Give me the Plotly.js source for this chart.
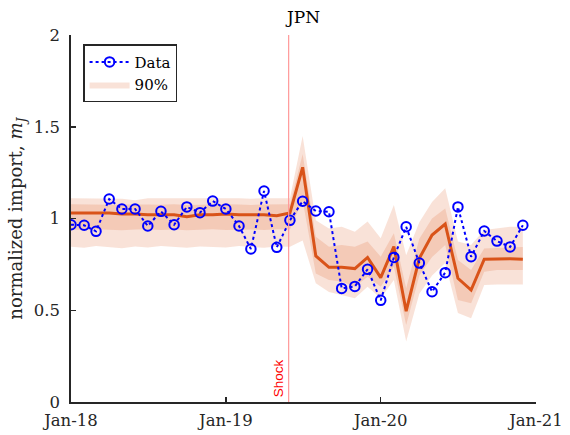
<!DOCTYPE html>
<html>
<head>
<meta charset="utf-8">
<script src="https://cdn.plot.ly/plotly-3.0.1.min.js"></script>
<style>html,body{margin:0;padding:0;background:#fff;}#chart{width:570px;height:435px;}</style>
</head>
<body>
<div id="chart"></div>
<script>
// Monthly dates Jan-2018 .. Dec-2020
const months = [
  '2018-01-01','2018-02-01','2018-03-01','2018-04-01','2018-05-01','2018-06-01',
  '2018-07-01','2018-08-01','2018-09-01','2018-10-01','2018-11-01','2018-12-01',
  '2019-01-01','2019-02-01','2019-03-01','2019-04-01','2019-05-01','2019-06-01',
  '2019-07-01','2019-08-01','2019-09-01','2019-10-01','2019-11-01','2019-12-01',
  '2020-01-01','2020-02-01','2020-03-01','2020-04-01','2020-05-01','2020-06-01',
  '2020-07-01','2020-08-01','2020-09-01','2020-10-01','2020-11-01','2020-12-01'
];
const dataValues = [
  0.966,0.963,0.930,1.106,1.052,1.052,0.959,1.039,0.966,1.063,1.032,1.095,
  1.052,0.959,0.834,1.150,0.843,0.990,1.094,1.041,1.037,0.619,0.630,0.723,
  0.554,0.788,0.955,0.757,0.601,0.705,1.063,0.792,0.932,0.877,0.845,0.963
];
const medianValues = [
  1.030,1.030,1.030,1.030,1.025,1.025,1.020,1.020,1.020,1.010,1.020,1.020,
  1.025,1.020,1.020,1.020,1.015,1.030,1.279,0.796,0.734,0.734,0.727,0.788,
  0.678,0.847,0.495,0.783,0.910,0.970,0.674,0.610,0.778,0.781,0.781,0.778
];
const outerUpper = [
  1.110,1.110,1.112,1.110,1.108,1.100,1.110,1.110,1.112,1.110,1.110,1.112,
  1.110,1.110,1.108,1.110,1.110,1.110,1.450,0.990,0.946,0.955,0.928,0.983,
  0.892,1.074,0.800,0.980,1.090,1.165,0.874,0.856,0.937,0.946,0.955,0.955
];
const innerUpper = [
  1.078,1.076,1.078,1.075,1.076,1.074,1.076,1.075,1.078,1.074,1.076,1.075,
  1.078,1.076,1.074,1.076,1.075,1.078,1.350,0.900,0.846,0.856,0.846,0.874,
  0.792,0.919,0.620,0.890,1.000,1.055,0.774,0.720,0.837,0.840,0.845,0.845
];
const innerLower = [
  0.940,0.938,0.942,0.940,0.936,0.940,0.942,0.938,0.940,0.936,0.940,0.942,
  0.938,0.940,0.940,0.938,0.942,0.940,1.100,0.700,0.665,0.656,0.628,0.683,
  0.628,0.737,0.420,0.690,0.790,0.855,0.556,0.538,0.710,0.720,0.720,0.720
];
const outerLower = [
  0.846,0.840,0.850,0.845,0.838,0.848,0.842,0.850,0.844,0.840,0.848,0.845,
  0.842,0.850,0.846,0.840,0.848,0.846,0.880,0.647,0.600,0.583,0.565,0.628,
  0.565,0.665,0.330,0.590,0.690,0.757,0.485,0.456,0.638,0.640,0.640,0.640
];
const shockDate = '2019-05-29';
const xTickVals = ['2018-01-01','2019-01-01','2020-01-01','2021-01-01'];
const xTickText = ['Jan-18','Jan-19','Jan-20','Jan-21'];
const yTickVals = [0,0.5,1,1.5,2];
const yTickText = ['0','0.5','1','1.5','2'];

const bandColor = 'rgba(217,83,25,0.17)';
const serif = 'DejaVu Serif, serif';
const axisColor = '#262626';

const traces = [
  {x: months, y: outerLower, type:'scatter', mode:'lines', line:{width:0, color:bandColor}, showlegend:false, hoverinfo:'skip'},
  {x: months, y: outerUpper, type:'scatter', mode:'lines', fill:'tonexty', fillcolor:bandColor, line:{width:0, color:bandColor}, name:'90%', legendrank:2},
  {x: months, y: innerLower, type:'scatter', mode:'lines', line:{width:0, color:bandColor}, showlegend:false, hoverinfo:'skip'},
  {x: months, y: innerUpper, type:'scatter', mode:'lines', fill:'tonexty', fillcolor:bandColor, line:{width:0, color:bandColor}, showlegend:false},
  {x: months, y: medianValues, type:'scatter', mode:'lines', line:{width:3, color:'#D95319'}, showlegend:false},
  {x: months, y: dataValues, type:'scatter', mode:'lines+markers', name:'Data', legendrank:1,
   line:{color:'#0000FF', width:2, dash:'dot'},
   marker:{symbol:'circle-open', size:9.5, color:'#0000FF', line:{width:2, color:'#0000FF'}}}
];

const layout = {
  width:570, height:435,
  margin:{l:71, r:34, t:35, b:33},
  paper_bgcolor:'#fff', plot_bgcolor:'#fff',
  title:{text:'JPN', font:{family:serif, size:17, color:'#000'}, x:0.5, xanchor:'center', y:0.96, yanchor:'middle', xref:'paper'},
  xaxis:{type:'date', range:['2018-01-01','2021-01-01'], tickvals:xTickVals, ticktext:xTickText,
    showgrid:false, zeroline:false, showline:true, linecolor:axisColor, linewidth:1.8,
    ticks:'inside', ticklen:5, tickwidth:1.5, tickcolor:axisColor, ticklabelstandoff:2,
    tickfont:{family:serif, size:16.5, color:axisColor}},
  yaxis:{range:[0,2], tickvals:yTickVals, ticktext:yTickText,
    showgrid:false, zeroline:false, showline:true, linecolor:axisColor, linewidth:1.8,
    ticks:'inside', ticklen:5, tickwidth:1.5, tickcolor:axisColor, ticklabelstandoff:6,
    tickfont:{family:serif, size:16.5, color:axisColor},
    title:{text:'normalized import, <i>m<sub>J</sub></i>', font:{family:serif, size:18, color:axisColor}, standoff:6}},
  legend:{x:0.026, y:0.975, xanchor:'left', yanchor:'top', bgcolor:'#fff', bordercolor:axisColor, borderwidth:1.5,
    font:{family:serif, size:15, color:'#000'}, traceorder:'normal', tracegroupgap:0, itemwidth:40},
  shapes:[{type:'line', xref:'x', yref:'paper', x0:shockDate, x1:shockDate, y0:0, y1:1, line:{color:'#FF9999', width:1.2}, layer:'above'}],
  annotations:[{x:shockDate, y:0, xref:'x', yref:'y', text:'Shock', textangle:-90, showarrow:false,
    xanchor:'right', yanchor:'bottom', xshift:-1, yshift:3, font:{family:'Liberation Sans, Arial, sans-serif', size:13.5, color:'#FF0000'}}]
};

Plotly.newPlot('chart', traces, layout, {displayModeBar:false, staticPlot:true});
</script>
</body>
</html>
